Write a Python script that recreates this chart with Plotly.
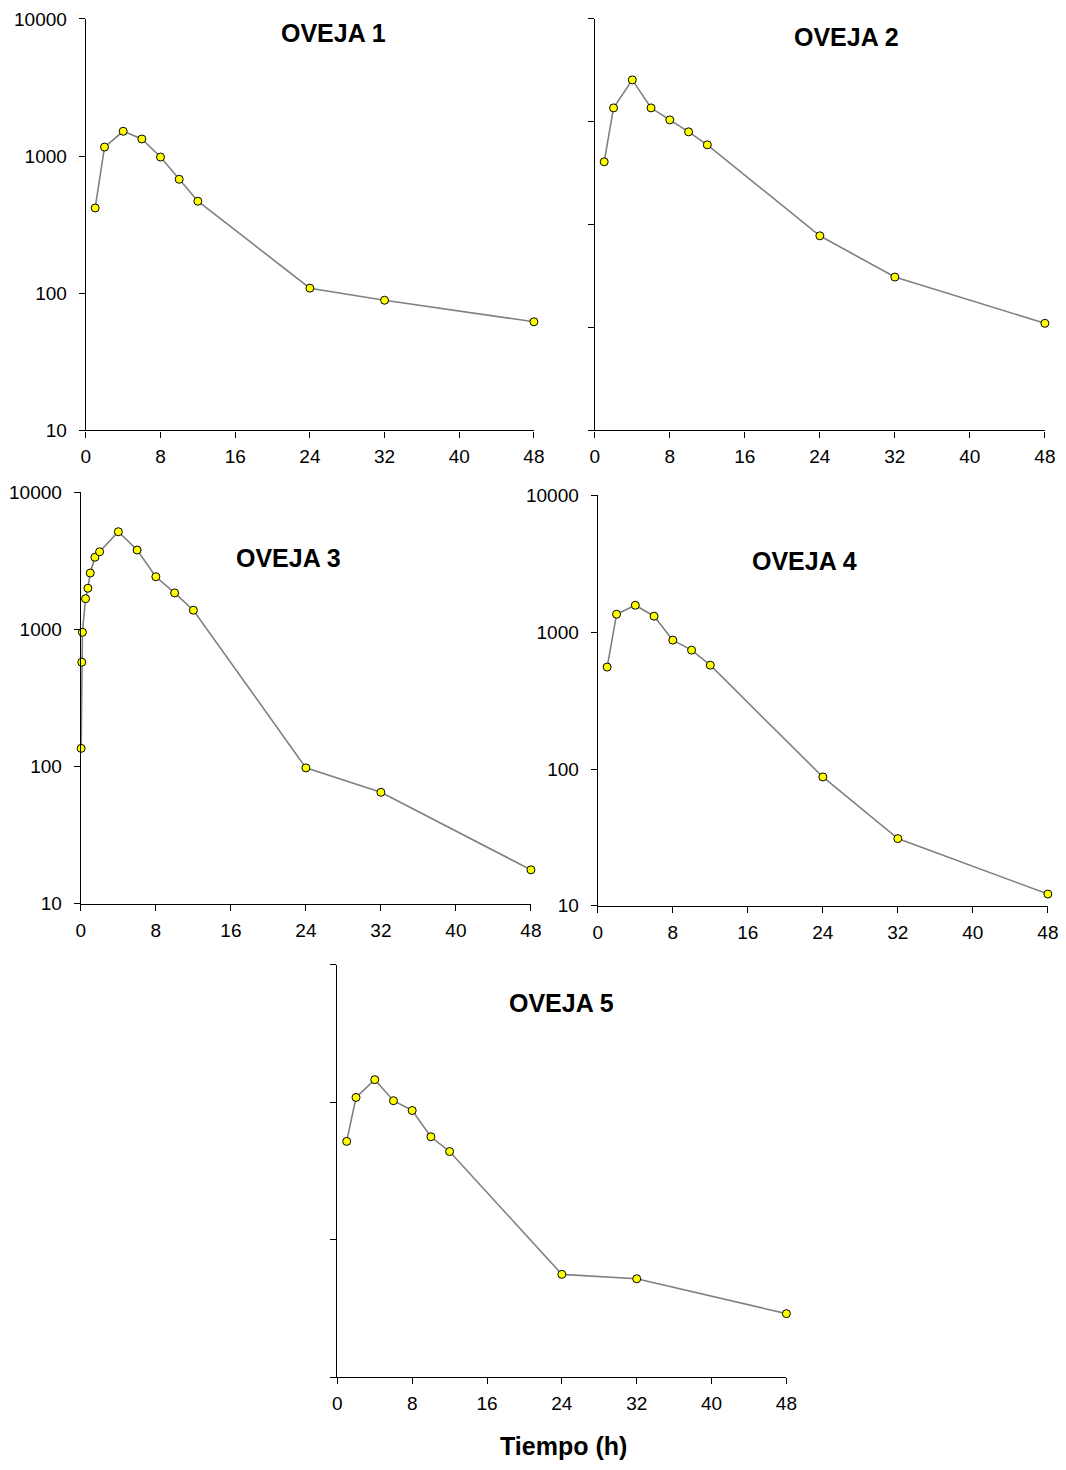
import plotly.graph_objects as go

W, H = 1066, 1470

# The returned picture shows the page scaled by ~0.987 with a small offset,
# so positions taken from the reference are mapped back to page pixels.
PIC_OX, PIC_OY, PIC_S = 4.0, 9.0, 0.987

# ---- data ----
t_std = [1, 2, 4, 6, 8, 10, 12, 24, 32, 48]
oveja1 = [419, 1165, 1518, 1334, 985, 678, 469, 109, 89, 62]
oveja2 = [409, 1367, 2559, 1367, 1045, 800, 598, 78, 31, 11]
t_oveja3 = [0.033, 0.1, 0.17, 0.5, 0.75, 1, 1.5, 2, 4, 6, 8, 10, 12, 24, 32, 48]
oveja3 = [136, 578, 955, 1679, 2000, 2582, 3366, 3690, 5166, 3800, 2426, 1849, 1383, 98, 65, 17.7]
oveja4 = [556, 1352, 1574, 1309, 875, 739, 574, 87.5, 31, 12.2]
oveja5 = [519, 1084, 1459, 1026, 871, 561, 438, 56, 52, 29]

titles = ["OVEJA 1", "OVEJA 2", "OVEJA 3", "OVEJA 4", "OVEJA 5"]
x_ticks = [0, 8, 16, 24, 32, 40, 48]
y_ticks = [10, 100, 1000, 10000]
y_ticks_p2 = [1, 10, 100, 1000, 10000]

series = [
    (t_std, oveja1), (t_std, oveja2), (t_oveja3, oveja3), (t_std, oveja4), (t_std, oveja5)
]

# reference pixel boxes: x0, x1, y0(top), y1(bottom)
boxes = [
    (85, 534, 18, 430),
    (595, 1046, 18, 430),
    (80, 531, 492, 904),
    (598, 1049, 495, 906),
    (337, 787, 965, 1378),
]
title_pos = [(333, 32), (847, 36), (288, 558), (805, 561), (562, 1003)]
xlabel_pos = (564, 1447)
show_ylabels = [True, False, True, True, False]
yranges = [[1, 4], [0, 4], [1, 4], [1, 4], [1, 4]]
yticksets = [y_ticks, y_ticks_p2, y_ticks, y_ticks, y_ticks]

FONT = "Liberation Sans, Arial, sans-serif"


def px(x):
    return ((x - PIC_OX) / PIC_S) / W


def py(y):
    return 1 - ((y - PIC_OY) / PIC_S) / H


fig = go.Figure()
layout = dict(
    width=W, height=H,
    margin=dict(l=0, r=0, t=0, b=0),
    paper_bgcolor="white", plot_bgcolor="white",
    showlegend=False,
    font=dict(family=FONT, color="black", size=19),
)
annotations = []

for i, ((tx, vals), (x0, x1, y0, y1)) in enumerate(zip(series, boxes)):
    n = i + 1
    xa = "x" if n == 1 else f"x{n}"
    ya = "y" if n == 1 else f"y{n}"
    fig.add_trace(go.Scatter(
        x=tx, y=vals, xaxis=xa, yaxis=ya,
        mode="lines+markers",
        line=dict(color="#808080", width=1.6),
        marker=dict(size=8, color="#FFFF00", line=dict(color="black", width=1)),
        cliponaxis=False,
        hoverinfo="x+y",
    ))
    xkey = "xaxis" if n == 1 else f"xaxis{n}"
    ykey = "yaxis" if n == 1 else f"yaxis{n}"
    layout[xkey] = dict(
        domain=[px(x0), min(px(x1), 1.0)], anchor=ya,
        range=[0, 48], tickvals=x_ticks, ticktext=[str(v) for v in x_ticks],
        showgrid=False, zeroline=False,
        showline=True, linecolor="black", linewidth=1.3,
        ticks="outside", ticklen=6, tickwidth=1.2, tickcolor="black",
        tickfont=dict(family=FONT, size=19, color="black"),
        ticklabelstandoff=3,
        fixedrange=True,
    )
    tv = yticksets[i]
    layout[ykey] = dict(
        domain=[max(py(y1), 0.0), min(py(y0), 1.0)], anchor=xa,
        type="log", range=yranges[i],
        tickvals=tv, ticktext=[str(v) for v in tv],
        showticklabels=show_ylabels[i],
        showgrid=False, zeroline=False,
        showline=True, linecolor="black", linewidth=1.3,
        ticks="outside", ticklen=6, tickwidth=1.2, tickcolor="black",
        tickfont=dict(family=FONT, size=19, color="black"),
        ticklabelstandoff=8,
        fixedrange=True,
    )
    tx_, ty_ = title_pos[i]
    annotations.append(dict(
        x=px(tx_), y=py(ty_), xref="paper", yref="paper",
        text=f"<b>{titles[i]}</b>", showarrow=False,
        xanchor="center", yanchor="middle",
        font=dict(family=FONT, size=25, color="black"),
    ))

annotations.append(dict(
    x=px(xlabel_pos[0]), y=py(xlabel_pos[1]), xref="paper", yref="paper",
    text="<b>Tiempo (h)</b>", showarrow=False,
    xanchor="center", yanchor="middle",
    font=dict(family=FONT, size=25, color="black"),
))
layout["annotations"] = annotations
fig.update_layout(**layout)

post = (
    "document.documentElement.style.margin='0';"
    "document.documentElement.style.padding='0';"
    "document.documentElement.style.overflow='hidden';"
    "document.body.style.margin='0';"
    "document.body.style.padding='0';"
    "document.body.style.overflow='hidden';"
)

fig.write_html("out.html", post_script=post, config={"displayModeBar": False})
